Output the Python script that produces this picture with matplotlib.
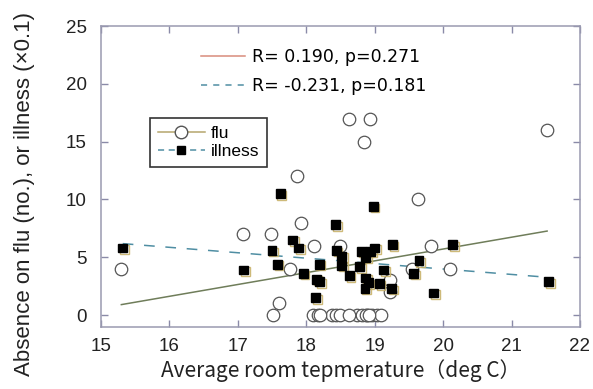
import numpy as np
import matplotlib.pyplot as plt
import matplotlib.patheffects as pe
from matplotlib.lines import Line2D

# flu absences (no.) vs average room temperature
flu_x = [15.30, 17.08, 17.48, 17.52, 17.61, 17.77, 17.87, 17.92, 18.12, 18.50,
         18.62, 18.93, 18.85, 19.22, 19.22, 19.54, 19.64, 19.82, 20.10, 21.52,
         18.10, 18.17, 18.38, 18.44, 18.50, 18.74, 18.81, 18.89, 18.96, 19.03,
         19.09, 18.20, 18.63, 18.87, 18.92]
flu_y = [4, 7, 7, 0, 1, 4, 12, 8, 6, 6,
         17, 17, 15, 3, 2, 4, 10, 6, 4, 16,
         0, 0, 0, 0, 0, 0, 0, 0, 0, 0,
         0, 0, 0, 0, 0]

# illness absences (x0.1)
ill_x = [15.32, 17.09, 17.50, 17.58, 17.62, 17.80, 17.89, 17.96, 18.15, 18.20,
         18.14, 18.19, 18.43, 18.44, 18.52, 18.52, 18.63, 18.78, 18.81, 18.87,
         18.94, 19.00, 18.98, 18.87, 18.91, 18.86, 19.07, 19.13, 19.25, 19.26,
         19.57, 19.65, 19.86, 20.14, 21.54]
ill_y = [5.8, 3.9, 5.6, 4.4, 10.5, 6.5, 5.8, 3.6, 3.1, 2.9,
         1.5, 4.4, 7.8, 5.6, 5.1, 4.3, 3.4, 4.2, 5.5, 5.0,
         5.5, 5.8, 9.4, 3.2, 2.8, 2.3, 2.7, 3.9, 2.3, 6.1,
         3.6, 4.7, 1.9, 6.1, 2.9]

stats = ['R= 0.190, p=0.271', 'R= -0.231, p=0.181']

plt.rcParams['font.family'] = ['Liberation Sans', 'DejaVu Sans']

fig = plt.figure(figsize=(5.93, 3.89), dpi=100)
ax = fig.add_axes([0.170, 0.159, 0.808, 0.774])

line_solid = '#6f7d5a'
line_dash = '#4f8ea3'

# regression lines
xs = np.array([min(flu_x), max(flu_x)])
k1, b1 = np.polyfit(flu_x, flu_y, 1)
ax.plot(xs, k1 * xs + b1, color=line_solid, lw=1.1, zorder=2)
xs2 = np.array([min(ill_x), max(ill_x)])
k2, b2 = np.polyfit(ill_x, ill_y, 1)
ax.plot(xs2, k2 * xs2 + b2, color=line_dash, lw=1.1, ls=(0, (7, 7)), zorder=2)

shadow = [pe.SimpleLineShadow(offset=(1.2, -1.2), shadow_color='#c9b36a', alpha=0.9), pe.Normal()]
ax.plot(flu_x, flu_y, 'o', ms=9, mfc='white', mec='#555555', mew=0.9, zorder=3)
ax.plot(ill_x, ill_y, 's', ms=6.3, mfc='black', mec='black', zorder=4,
        path_effects=shadow)

ax.set_xlim(15, 22)
ax.set_ylim(-1.05, 25)
ax.set_xticks(range(15, 23))
ax.set_yticks(range(0, 26, 5))
ax.tick_params(direction='in', length=5, width=1, colors='#8a8aa8',
               labelcolor='#222222', labelsize=13.5, top=True, right=True)
ax.tick_params(axis='y', pad=10)
ax.tick_params(axis='x', pad=8)
for s in ax.spines.values():
    s.set_color('#9a9ab0')
    s.set_linewidth(1.1)

ax.set_xlabel('Average room tepmerature（deg C）', fontsize=15,
              family=['Noto Sans CJK JP', 'DejaVu Sans'], color='#222222', labelpad=3)
ax.set_ylabel('Absence on flu (no.), or illness (×0.1)', fontsize=16, color='#222222')
ax.yaxis.set_label_coords(-0.138, 0.441)

# legend with R and p values
h1 = [Line2D([], [], color='#d98c7c', lw=1.1),
      Line2D([], [], color=line_dash, lw=1.1, ls=(0, (4, 4)))]
leg1 = ax.legend(h1, stats, loc='upper left', bbox_to_anchor=(0.177, 0.98),
                 frameon=False, prop={'family': 'DejaVu Sans', 'size': 12.5},
                 handlelength=2.5, handletextpad=0.4, labelspacing=0.65)
ax.add_artist(leg1)

h2 = [Line2D([], [], color='#b5a66c', lw=1.1, marker='o', ms=9, mfc='white', mec='#555555'),
      Line2D([], [], color=line_dash, lw=1.1, ls=(0, (4, 3)), marker='s', ms=6.3,
             mfc='black', mec='black')]
leg2 = ax.legend(h2, ['flu', 'illness'], loc='upper left', bbox_to_anchor=(0.085, 0.722),
                 fontsize=12.5, handlelength=2.7, handletextpad=0.35, labelspacing=0.15,
                 borderpad=0.45, fancybox=False, framealpha=1)
leg2.get_frame().set_edgecolor('#333333')
leg2.get_frame().set_linewidth(1.2)

plt.savefig('out.png', dpi=100)
plt.close('all')
